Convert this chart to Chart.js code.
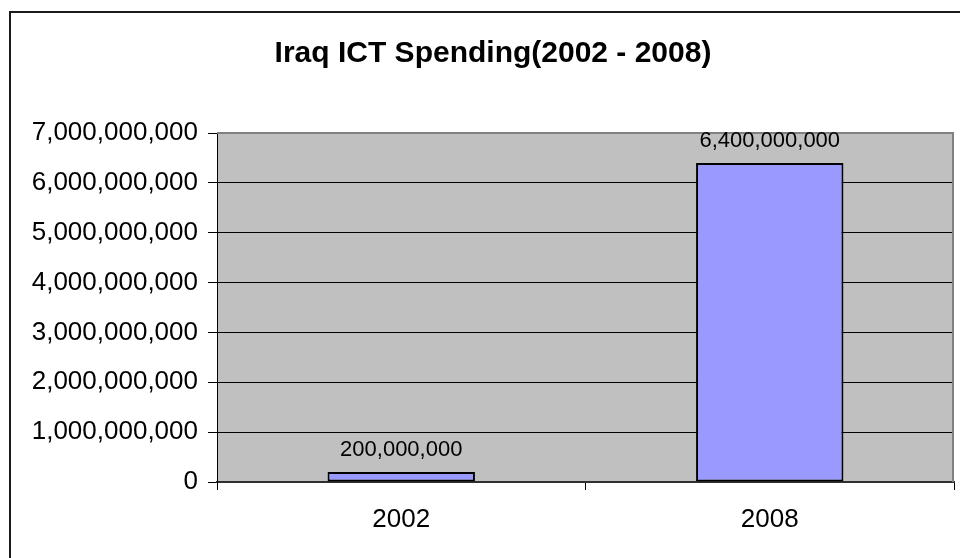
<!DOCTYPE html>
<html>
<head>
<meta charset="utf-8">
<script src="https://cdn.jsdelivr.net/npm/chart.js@4/dist/chart.umd.min.js"></script>
<style>
  html, body { margin: 0; padding: 0; background: #fff; }
  #wrap { width: 960px; height: 558px; position: relative; }
</style>
</head>
<body>
<div id="wrap"><canvas id="c" width="960" height="558"></canvas></div>
<script>
const titleText = 'Iraq ICT Spending(2002 - 2008)';
const categories = ['2002', '2008'];
const spending = [200000000, 6400000000];
const yMin = 0;
const yMax = 7000000000;
const yStep = 1000000000;

const FONT = "'Liberation Sans', Arial, sans-serif";

const decorPlugin = {
  id: 'decor',
  beforeDraw(chart) {
    const { ctx, chartArea: a } = chart;
    ctx.save();
    ctx.fillStyle = '#C0C0C0';
    ctx.fillRect(a.left, a.top, a.right - a.left, a.bottom - a.top);
    // outer frame (top and left visible)
    ctx.strokeStyle = '#1a1a1a';
    ctx.lineWidth = 2;
    ctx.beginPath();
    ctx.moveTo(10, 558);
    ctx.lineTo(10, 12);
    ctx.lineTo(960, 12);
    ctx.stroke();
    ctx.restore();
  },
  afterDatasetsDraw(chart) {
    const { ctx, chartArea: a } = chart;
    ctx.save();
    ctx.strokeStyle = '#808080';
    ctx.lineWidth = 2;
    ctx.beginPath();
    ctx.moveTo(a.left, a.top);
    ctx.lineTo(a.right - 1, a.top);
    ctx.lineTo(a.right - 1, a.bottom);
    ctx.stroke();
    ctx.restore();
  },
  afterDraw(chart) {
    const { ctx } = chart;
    const meta = chart.getDatasetMeta(0);
    ctx.save();
    ctx.fillStyle = '#000';
    ctx.font = '22px ' + FONT;
    ctx.textAlign = 'center';
    ctx.textBaseline = 'alphabetic';
    meta.data.forEach((bar, i) => {
      const v = chart.data.datasets[0].data[i];
      ctx.fillText(v.toLocaleString('en-US'), bar.x, bar.y - 16);
    });
    ctx.restore();
  }
};

new Chart(document.getElementById('c'), {
  type: 'bar',
  data: {
    labels: categories,
    datasets: [{
      data: spending,
      backgroundColor: '#9999FF',
      borderColor: '#000000',
      borderWidth: 2,
      borderSkipped: false,
      categoryPercentage: 1.0,
      barPercentage: 0.4
    }]
  },
  options: {
    responsive: false,
    animation: false,
    layout: { padding: { left: 32, right: 6, top: 0, bottom: 0 } },
    plugins: {
      legend: { display: false },
      tooltip: { enabled: false },
      title: {
        display: true,
        text: titleText,
        color: '#000',
        font: { family: FONT, size: 30, weight: 'bold' },
        padding: { top: 36, bottom: 61 }
      }
    },
    scales: {
      x: {
        grid: { drawOnChartArea: false, drawTicks: true, tickLength: 8, tickColor: '#000', offset: true },
        border: { display: true, color: '#303030', width: 2 },
        ticks: { color: '#000', font: { family: FONT, size: 26 }, padding: 14 },
        afterFit(scale) { scale.height = 76; }
      },
      y: {
        min: yMin,
        max: yMax,
        grid: { color: '#000', lineWidth: 1, tickLength: 9, tickColor: '#000' },
        border: { display: true, color: '#000', width: 1 },
        ticks: {
          stepSize: yStep,
          color: '#000',
          font: { family: FONT, size: 26 },
          padding: 10,
          callback: (v) => Number(v).toLocaleString('en-US')
        },
        afterFit(scale) { scale.width = 185; }
      }
    }
  },
  plugins: [decorPlugin]
});
</script>
</body>
</html>
